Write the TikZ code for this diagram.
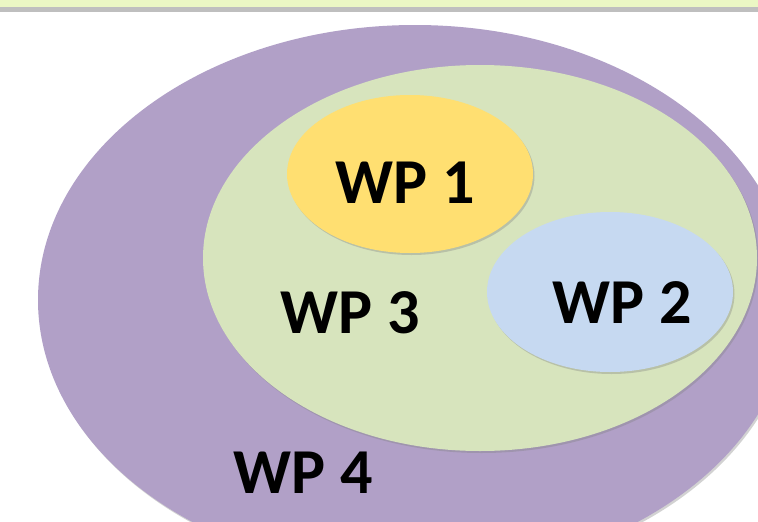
\documentclass[tikz,border=0pt]{standalone}
\usepackage{fontspec}
\setmainfont{Carlito}
\usetikzlibrary{shapes.geometric,shadows}

\definecolor{wpfour}{HTML}{B1A0C7}
\definecolor{wpthree}{HTML}{D7E4BD}
\definecolor{wpone}{HTML}{FFDF71}
\definecolor{wptwo}{HTML}{C6D9F1}
\definecolor{topband}{HTML}{EBF7C4}
\definecolor{topline}{HTML}{BFBFBF}

\tikzset{
  wpset/.style={ellipse, inner sep=0pt, drop shadow={shadow xshift=1.5pt, shadow yshift=-2pt, opacity=0.35}},
  wplabel/.style={font=\bfseries\fontsize{64}{64}\selectfont, inner sep=0pt}
}

\begin{document}
\begin{tikzpicture}[x=1pt, y=-1pt]
  \useasboundingbox (0,0) rectangle (758,522);
  \clip (0,0) rectangle (758,522);
  \fill[white] (0,0) rectangle (758,522);

  % band at the top
  \fill[topband] (0,0) rectangle (758,7);
  \fill[topline] (0,7) rectangle (758,12);

  % nested sets
  \node[wpset, fill=wpfour, minimum width=754pt, minimum height=550pt] (wp4) at (415,300) {};
  \node[wpset, fill=wpthree, minimum width=554pt, minimum height=386pt] (wp3) at (480,258) {};
  \node[wpset, fill=wpone, minimum width=246pt, minimum height=158pt] (wp1) at (410,174) {};
  \node[wpset, fill=wptwo, minimum width=246pt, minimum height=160pt] (wp2) at (610,292) {};

  % labels
  \node[wplabel] (l1) at (405,183) {WP 1};
  \node[wplabel] (l2) at (622,303) {WP 2};
  \node[wplabel] (l3) at (350,313) {WP 3};
  \node[wplabel] (l4) at (303,473) {WP 4};
\end{tikzpicture}
\end{document}
